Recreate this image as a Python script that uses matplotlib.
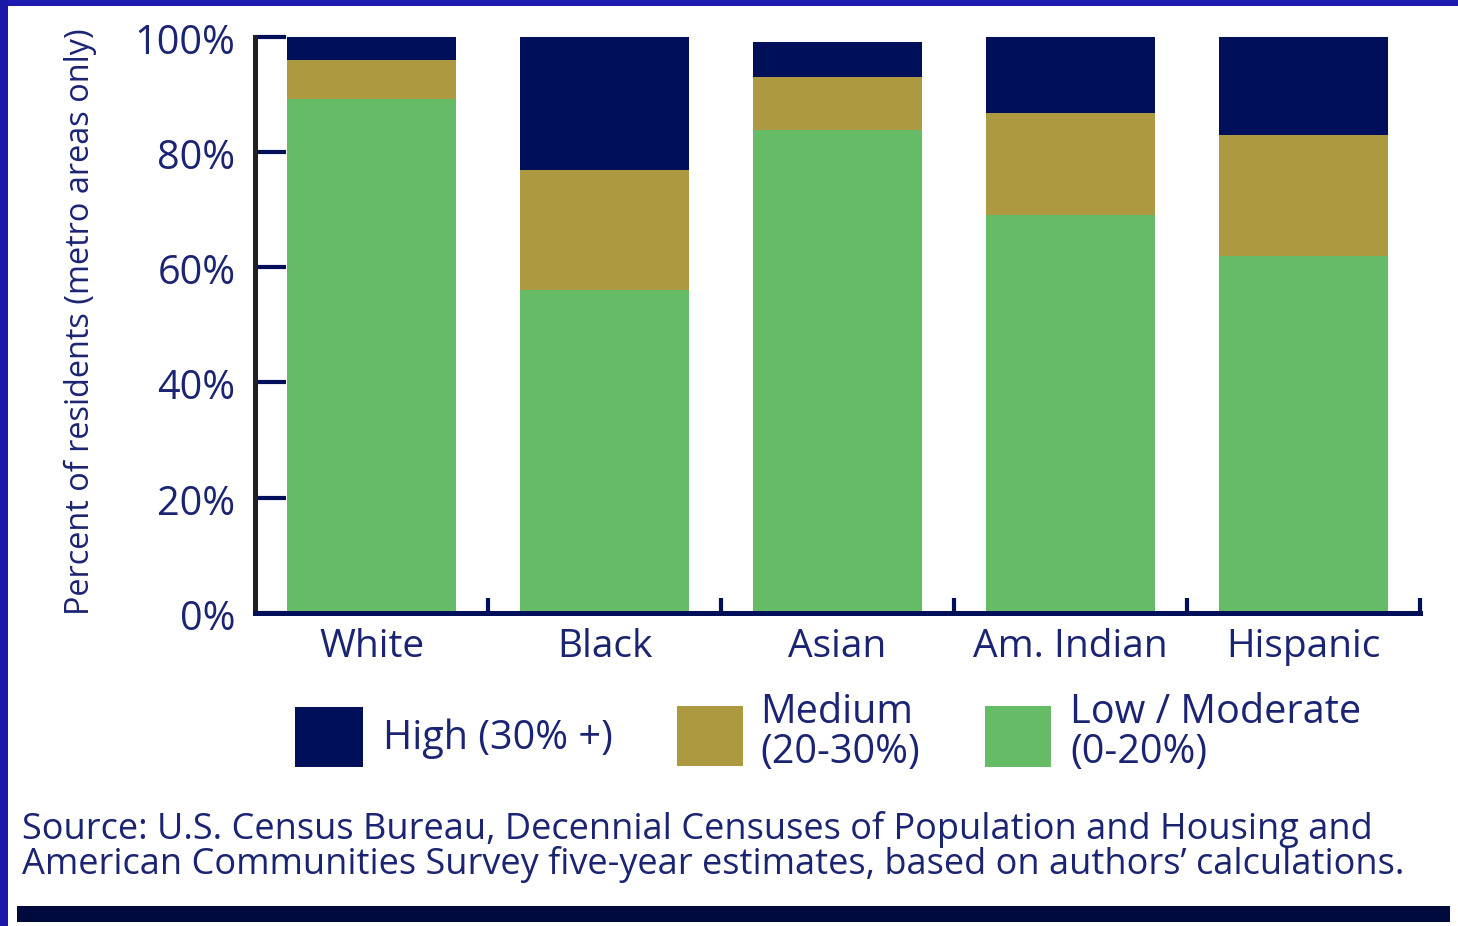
import matplotlib
matplotlib.use("Agg")
import matplotlib.pyplot as plt
from matplotlib.patches import Rectangle
from matplotlib.transforms import ScaledTranslation
import numpy as np

# Share of residents by neighborhood poverty level (metro areas only)
groups = ["White", "Black", "Asian", "Am. Indian", "Hispanic"]
low_moderate = [89.1, 56.0, 83.8, 69.0, 61.9]
medium = [6.9, 20.8, 9.2, 17.7, 21.0]
high = [4.0, 23.2, 6.0, 13.3, 17.1]
y_ticks = [0, 20, 40, 60, 80, 100]
y_tick_labels = ["0%", "20%", "40%", "60%", "80%", "100%"]
legend_labels = ["High (30% +)", "Medium\n(20-30%)", "Low / Moderate\n(0-20%)"]
source_lines = ["Source: U.S. Census Bureau, Decennial Censuses of Population and Housing and",
                "American Communities Survey five-year estimates, based on authors\u2019 calculations."]
y_label = "Percent of residents (metro areas only)"

NAVY = "#000F5A"
GOLD = "#AD9A40"
GREEN = "#66BC66"
TEXT = "#1A2472"
FONT = "Open Sans"

plt.rcParams["font.family"] = [FONT, "DejaVu Sans"]

W, H = 1458, 926
fig = plt.figure(figsize=(W / 100, H / 100), dpi=100)
fig.patch.set_facecolor("white")


def fy(py):
    """Figure fraction from a pixel row measured from the top."""
    return 1 - py / H


# frame strips along the top and left edges
fig.patches.append(Rectangle((0, fy(6)), 1, 6 / H, transform=fig.transFigure,
                             facecolor="#1D1BB0", edgecolor="none", zorder=0))
fig.patches.append(Rectangle((0, 0), 8 / W, 1, transform=fig.transFigure,
                             facecolor="#1A17A8", edgecolor="none", zorder=0))
# rule at the bottom
fig.patches.append(Rectangle((17 / W, fy(922)), (1450 - 17) / W, 16 / H,
                             transform=fig.transFigure, facecolor="#00093C",
                             edgecolor="none", zorder=1))

ax_left, ax_right = 255 / W, 1420 / W
ax_bottom, ax_top = fy(613), fy(36.5)
ax = fig.add_axes([ax_left, ax_bottom, ax_right - ax_left, ax_top - ax_bottom])

x = np.arange(len(groups))
width = 0.725
low_arr = np.array(low_moderate)
med_arr = np.array(medium)
high_arr = np.array(high)
ax.bar(x, low_arr, width, color=GREEN, zorder=2)
ax.bar(x, med_arr, width, bottom=low_arr, color=GOLD, zorder=2)
ax.bar(x, high_arr, width, bottom=low_arr + med_arr, color=NAVY, zorder=2)

ax.set_xlim(-0.5, len(groups) - 0.5)
ax.set_ylim(0, 100)

for side in ("top", "right"):
    ax.spines[side].set_visible(False)
ax.spines["left"].set_color("#231F20")
ax.spines["left"].set_linewidth(3.6)
ax.spines["bottom"].set_color(NAVY)
ax.spines["bottom"].set_linewidth(3.6)
ax.spines["left"].set_zorder(3)
ax.spines["bottom"].set_zorder(4)

ax.set_yticks(y_ticks)
ax.set_yticklabels(y_tick_labels)
ax.tick_params(axis="y", direction="in", length=22, width=3, color=NAVY,
               pad=14, labelsize=28.5, labelcolor=TEXT)
shift_down = ScaledTranslation(0, -0.17, fig.dpi_scale_trans)
for lab in ax.get_yticklabels():
    lab.set_va("baseline")
    lab.set_transform(lab.get_transform() + shift_down)

ax.set_xticks(x)
ax.set_xticklabels(groups)
ax.tick_params(axis="x", which="major", length=0, pad=31.5, labelsize=28,
               labelcolor=TEXT)
for lab in ax.get_xticklabels():
    lab.set_va("baseline")
ax.set_xticks(np.arange(len(groups)) + 0.5, minor=True)
ax.tick_params(axis="x", which="minor", direction="in", length=11, width=3,
               color=NAVY)

fig.text(80 / W, fy(322), y_label, rotation=90, fontsize=23.4, color=TEXT,
         ha="center", va="center")

# legend swatches and labels
legend_colors = [NAVY, GOLD, GREEN]
swatch_boxes = [(295, 707, 68, 60), (677, 706, 66, 60), (985, 706, 66, 61)]
label_x = [383, 760, 1070]
for (sx, sy, sw, sh), col, lx, lab in zip(swatch_boxes, legend_colors, label_x, legend_labels):
    fig.patches.append(Rectangle((sx / W, fy(sy + sh)), sw / W, sh / H,
                                 transform=fig.transFigure, facecolor=col,
                                 edgecolor="none"))
    lines = lab.split("\n")
    baselines = [749] if len(lines) == 1 else [723, 763]
    for line, base in zip(lines, baselines):
        fig.text(lx / W, fy(base), line, fontsize=28.5, color=TEXT, ha="left",
                 va="baseline")

for line, base in zip(source_lines, [839, 874]):
    fig.text(22 / W, fy(base), line, fontsize=26, color=TEXT, ha="left",
             va="baseline")

fig.savefig("out.png", dpi=100)
